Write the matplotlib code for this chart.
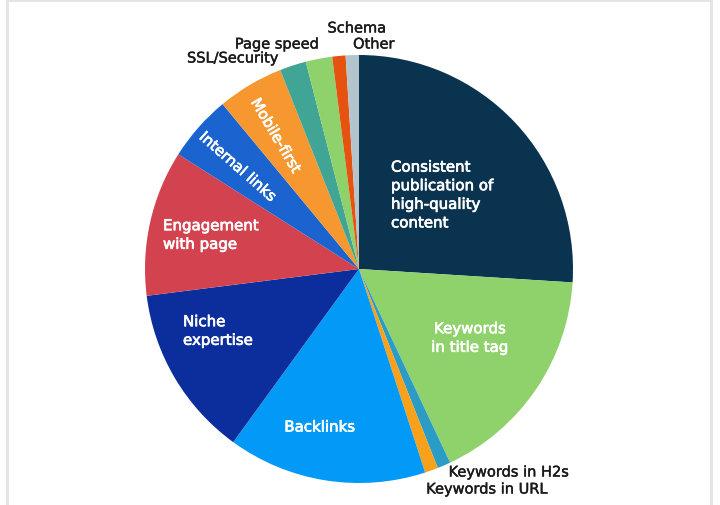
import numpy as np
import matplotlib.pyplot as plt
import matplotlib.patheffects as pe
from matplotlib.lines import Line2D

# ranking factor shares (percent), clockwise from 12 o'clock
factors = ['Consistent\npublication of\nhigh-quality\ncontent', 'Keywords\nin title tag',
           'Keywords in H2s', 'Keywords in URL', 'Backlinks', 'Niche\nexpertise',
           'Engagement\nwith page', 'Internal links', 'Mobile-first', 'SSL/Security',
           'Page speed', 'Schema', 'Other']
shares = [26, 17, 1, 1, 15, 13, 11, 5, 5, 2, 2, 1, 1]
colors = ['#0a3350', '#8fd16b', '#2b9cc4', '#f9a11b', '#0399f7', '#0b2e9c',
          '#d3434f', '#1b64d0', '#f7972f', '#40a595', '#8fd16b', '#e6520f', '#b4c4cd']

W, H = 720, 506
cx, cy, R = 359, H - 270, 214

fig = plt.figure(figsize=(W / 100, H / 100), dpi=100)
ax = fig.add_axes([0, 0, 1, 1])
ax.axis('off')

wedges, _ = ax.pie(shares, colors=colors, startangle=90, counterclock=False,
                   radius=R, center=(cx, cy), wedgeprops=dict(linewidth=0))
ax.set_xlim(0, W)
ax.set_ylim(0, H)
ax.set_aspect('equal')

# inside labels: (index, x, y from top, ha, multialign)
inner = [(0, 391, 196, 'left', 'left'), (1, 470, 339, 'center', 'center'),
         (4, 320, 428, 'center', 'center'), (5, 183, 332, 'left', 'left'),
         (6, 163, 236, 'left', 'left'), (7, 238, 168, 'center', 'center'),
         (8, 276, 137, 'center', 'center')]
for i, x, y, ha, al in inner:
    w = wedges[i]
    mid = (w.theta1 + w.theta2) / 2
    rot = (mid - 180) if i in (7, 8) else 0
    ax.text(x, H - y, factors[i], color='white', fontsize=10.8, ha=ha, va='center',
            multialignment=al, linespacing=1.3, rotation=rot, rotation_mode='anchor',
            path_effects=[pe.withStroke(linewidth=0.5, foreground='white')])

# outside labels: (index, x, y from top)
outer = [(2, 509, 473), (3, 487, 490), (9, 233, 59), (10, 277, 45),
         (11, 357, 29), (12, 374, 45)]
for i, x, y in outer:
    ax.text(x, H - y, factors[i], color='#1a1a1a', fontsize=10.5, ha='center', va='center',
            path_effects=[pe.withStroke(linewidth=0.3, foreground='#1a1a1a')])

# faint card border
for x0, x1, y0, y1 in [(7, 7, 0, H), (711, 711, 0, H), (7, 711, H - 1, H - 1)]:
    fig.add_artist(Line2D([x0 / W, x1 / W], [y0 / H, y1 / H], color='#e4e4e4', lw=2))

fig.savefig('out.png', dpi=100, facecolor='white')
